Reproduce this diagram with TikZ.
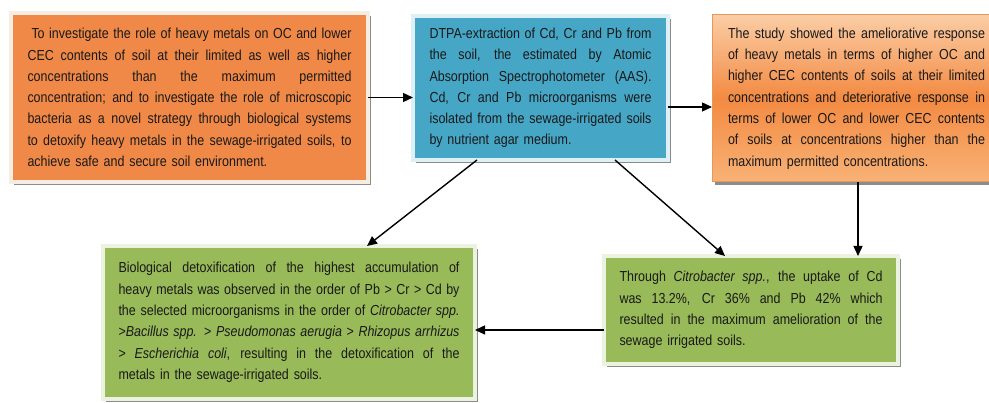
\documentclass[tikz,border=0pt]{standalone}
\usepackage{fontspec}
\setmainfont{Liberation Sans}[FakeStretch=0.86]
\usetikzlibrary{arrows.meta,shadows}
\definecolor{orA}{RGB}{240,137,72}
\definecolor{orFrame}{RGB}{246,236,226}
\definecolor{blA}{RGB}{70,166,198}
\definecolor{blFrame}{RGB}{222,240,246}
\definecolor{grA}{RGB}{152,186,88}
\definecolor{grFrame}{RGB}{236,242,224}
\definecolor{orTop}{RGB}{251,205,165}
\definecolor{orMid}{RGB}{243,138,66}
\definecolor{orBot}{RGB}{248,178,118}
\definecolor{orEdge}{RGB}{232,150,90}
\definecolor{txt}{RGB}{25,25,25}
\newcommand\jl[1]{\hbox to \hsize{\spaceskip=0.28em plus 1fil minus 0.1em\relax #1}}
\begin{document}
\begin{tikzpicture}[x=1pt,y=-1pt,
  boxbase/.style={rectangle, inner sep=0pt, outer sep=0pt, align=left, text=txt,
    font=\fontsize{14.5}{21.3}\selectfont,
    drop shadow={shadow xshift=2.5pt,shadow yshift=-3pt,fill=black!45,opacity=1}},
  orangebox/.style={boxbase, fill=orA, draw=orFrame, line width=4pt},
  bluebox/.style={boxbase, fill=blA, draw=blFrame, line width=4pt},
  greenbox/.style={boxbase, fill=grA, draw=grFrame, line width=4pt},
  gradbox/.style={boxbase, top color=orTop, bottom color=orBot, middle color=orMid, draw=orEdge, line width=1pt},
  conn/.style={draw=black, line width=1.4pt, -{Triangle[length=10pt,width=9pt]}}]
\clip (0,0) rectangle (989,403);
\fill[white] (0,0) rectangle (989,403);

\node[orangebox, minimum width=357pt, minimum height=169pt, text width=324pt] (b1) at (189.5,97.5) {%
\hbox to \hsize{\hspace*{4pt}\spaceskip=0.28em plus 1fil minus 0.1em\relax To investigate the role of heavy metals on OC and lower}
\jl{CEC contents of soil at their limited as well as higher}
\jl{concentrations than the maximum permitted}
\jl{concentration; and to investigate the role of microscopic}
\jl{bacteria as a novel strategy through biological systems}
\jl{to detoxify heavy metals in the sewage-irrigated soils, to}
achieve safe and secure soil environment.};

\node[bluebox, minimum width=255pt, minimum height=144pt, text width=222pt] (b2) at (540.5,88) {%
\jl{DTPA-extraction of Cd, Cr and Pb from}
\jl{the soil, the estimated by Atomic}
\jl{Absorption Spectrophotometer (AAS).}
\jl{Cd, Cr and Pb microorganisms were}
\jl{isolated from the sewage-irrigated soils}
by nutrient agar medium.};

\node[gradbox, minimum width=289pt, minimum height=167pt, text width=257pt] (b3) at (856.5,98.5) {%
\jl{The study showed the ameliorative response}
\jl{of heavy metals in terms of higher OC and}
\jl{higher CEC contents of soils at their limited}
\jl{concentrations and deteriorative response in}
\jl{terms of lower OC and lower CEC contents}
\jl{of soils at concentrations higher than the}
maximum permitted concentrations.};

\node[greenbox, minimum width=372pt, minimum height=153pt, text width=341pt] (b4) at (289,322.5) {%
\jl{Biological detoxification of the highest accumulation of}
\jl{heavy metals was observed in the order of Pb > Cr > Cd by}
\jl{the selected microorganisms in the order of \textit{Citrobacter spp.}}
\jl{>\textit{Bacillus spp.} > \textit{Pseudomonas aerugia} > \textit{Rhizopus arrhizus}}
\jl{> \textit{Escherichia coli}, resulting in the detoxification of the}
metals in the sewage-irrigated soils.};

\node[greenbox, minimum width=294pt, minimum height=108pt, text width=263pt] (b5) at (751,310) {%
\jl{Through \textit{Citrobacter spp.}, the uptake of Cd}
\jl{was 13.2\%, Cr 36\% and Pb 42\% which}
\jl{resulted in the maximum amelioration of the}
sewage irrigated soils.};

\draw[conn] (b1.east) -- (b1.east -| b2.west);
\draw[conn] ([yshift=-19pt]b2.east) -- ([yshift=-19pt]b2.east -| b3.west);
\draw[conn] ([xshift=-63.5pt]b2.south) -- ([xshift=78pt]b4.north);
\draw[conn] ([xshift=74.5pt]b2.south) -- ([xshift=-26pt]b5.north);
\draw[conn] ([xshift=1.5pt]b3.south) -- ([xshift=1.5pt]b3.south |- b5.north);
\draw[conn] ([yshift=-20pt]b5.west) -- ([yshift=-20pt]b5.west -| b4.east);
\end{tikzpicture}
\end{document}
